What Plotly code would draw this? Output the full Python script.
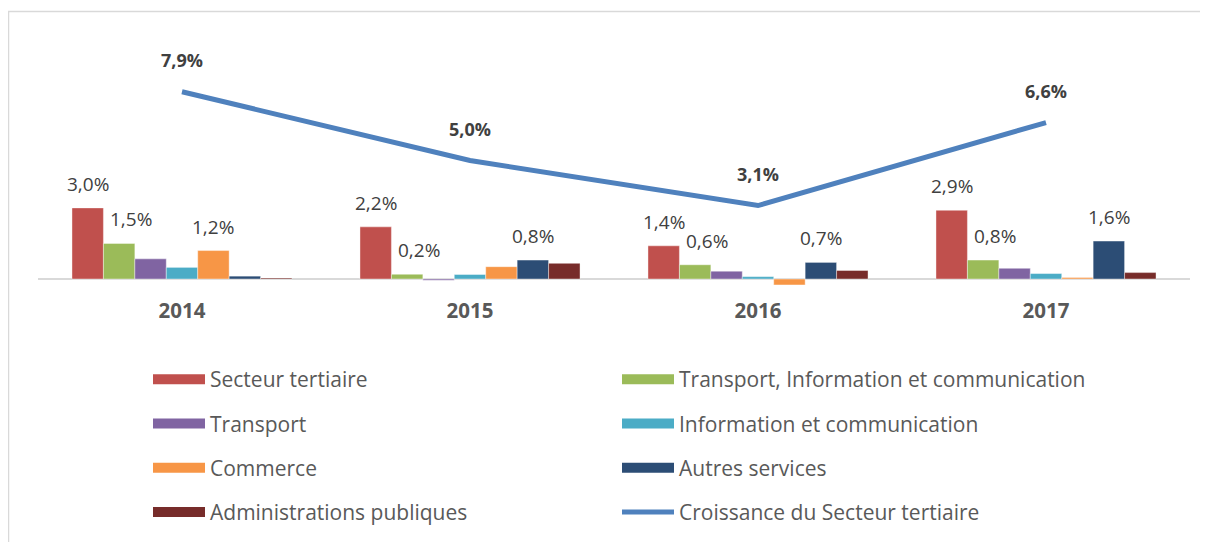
import plotly.graph_objects as go

years = ["2014", "2015", "2016", "2017"]

secteur_tertiaire = [3.0, 2.2, 1.4, 2.9]
transport_info_com = [1.5, 0.2, 0.6, 0.8]
transport = [0.85, -0.05, 0.33, 0.45]
info_com = [0.49, 0.19, 0.10, 0.23]
commerce = [1.2, 0.52, -0.25, 0.06]
autres_services = [0.12, 0.8, 0.7, 1.6]
admin_publiques = [0.04, 0.66, 0.36, 0.27]
croissance = [7.9, 5.0, 3.1, 6.6]

series_names = [
    "Secteur tertiaire",
    "Transport, Information et communication",
    "Transport",
    "Information et communication",
    "Commerce",
    "Autres services",
    "Administrations publiques",
]
series_values = [secteur_tertiaire, transport_info_com, transport, info_com,
                 commerce, autres_services, admin_publiques]
series_colors = ["#C0504D", "#9BBB59", "#8064A2", "#4BACC6", "#F79646", "#2C4D75", "#772C2A"]
# which points carry a data label
series_labels = [
    [1, 1, 1, 1],
    [1, 1, 1, 1],
    [0, 0, 0, 0],
    [0, 0, 0, 0],
    [1, 0, 0, 0],
    [0, 1, 1, 1],
    [0, 0, 0, 0],
]
line_name = "Croissance du Secteur tertiaire"
line_color = "#4F81BD"

FONT = "Open Sans"
BARGAP = 0.236

# page offset of the plot div (body margin)
OX, OY = 8, 8
W, H = 1208, 542
# target page geometry
plot_left_pg, plot_right_pg = 38, 1190
plot_top_pg, plot_bot_pg = 30, 296
zero_pg = 279
px_per_unit = 23.7

L = plot_left_pg - OX
R = W - (plot_right_pg - OX)
T = plot_top_pg - OY
B = H - (plot_bot_pg - OY)
plot_h = plot_bot_pg - plot_top_pg
plot_w = plot_right_pg - plot_left_pg
y_top = (zero_pg - plot_top_pg) / px_per_unit
y_bot = -(plot_bot_pg - zero_pg) / px_per_unit

def fmt(v):
    return f"{v:.1f}".replace(".", ",") + "%"

def px_to_paper_x(px_pg):
    return (px_pg - plot_left_pg) / plot_w

def px_to_paper_y(py_pg):
    return (plot_bot_pg - py_pg) / plot_h

fig = go.Figure()
for name, vals, col in zip(series_names, series_values, series_colors):
    fig.add_trace(go.Bar(x=years, y=vals, name=name, marker_color=col,
                         marker_line=dict(color="rgba(255,255,255,0.5)", width=0.8),
                         showlegend=False))

fig.add_trace(go.Scatter(x=years, y=croissance, name=line_name, mode="lines",
                         line=dict(color=line_color, width=5), showlegend=False))

# legend entries (two columns)
legend_entries = list(zip(series_names, series_colors)) + [(line_name, line_color)]
for k, (name, col) in enumerate(legend_entries):
    is_line = name == line_name
    fig.add_trace(go.Scatter(
        x=[None], y=[None], mode="lines", name=name,
        line=dict(color=col, width=5 if is_line else 10),
        legend="legend" if k % 2 == 0 else "legend2",
        legendgroup=f"g{k}", showlegend=True, hoverinfo="skip"))

annotations = []
n = len(series_names)
bw = (1 - BARGAP) / n
for j, (vals, flags) in enumerate(zip(series_values, series_labels)):
    off = -(1 - BARGAP) / 2 + (j + 0.5) * bw
    for i, (v, f) in enumerate(zip(vals, flags)):
        if f:
            annotations.append(dict(
                x=i + off, y=v, xref="x", yref="y", text=fmt(v), showarrow=False,
                yanchor="middle", yshift=24, xshift=12 if j == 1 else 0,
                font=dict(family=FONT, size=19, color="#404040")))
for i, v in enumerate(croissance):
    annotations.append(dict(
        x=i, y=v, xref="x", yref="y", text=f"<b>{fmt(v)}</b>", showarrow=False,
        yanchor="middle", yshift=32,
        font=dict(family=FONT, size=18, color="#404040")))

legend_common = dict(xanchor="left", yanchor="top", orientation="v", itemwidth=52,
                     tracegroupgap=14, font=dict(family=FONT, size=21, color="#595959"),
                     bgcolor="rgba(0,0,0,0)")

fig.update_layout(
    width=W, height=H,
    margin=dict(l=L, r=R, t=T, b=B),
    paper_bgcolor="white", plot_bgcolor="white",
    barmode="group", bargap=BARGAP, bargroupgap=0,
    font=dict(family=FONT, size=19, color="#595959"),
    xaxis=dict(type="category", showgrid=False, showline=False, ticks="",
               tickfont=dict(family=FONT, size=20.5, color="#595959", weight="bold")),
    yaxis=dict(range=[y_bot, y_top], showgrid=False, showticklabels=False,
               zeroline=True, zerolinecolor="#D9D9D9", zerolinewidth=2, showline=False, ticks=""),
    legend=dict(x=px_to_paper_x(148), y=px_to_paper_y(359), **legend_common),
    legend2=dict(x=px_to_paper_x(617), y=px_to_paper_y(359), **legend_common),
    annotations=annotations,
    shapes=[dict(type="rect", xref="paper", yref="paper",
                 x0=px_to_paper_x(8.5), x1=px_to_paper_x(1240),
                 y0=px_to_paper_y(11.5), y1=px_to_paper_y(580),
                 line=dict(color="#D9D9D9", width=1.5), fillcolor="rgba(0,0,0,0)",
                 layer="below")],
    showlegend=True,
)

fig.write_html("out.html")
